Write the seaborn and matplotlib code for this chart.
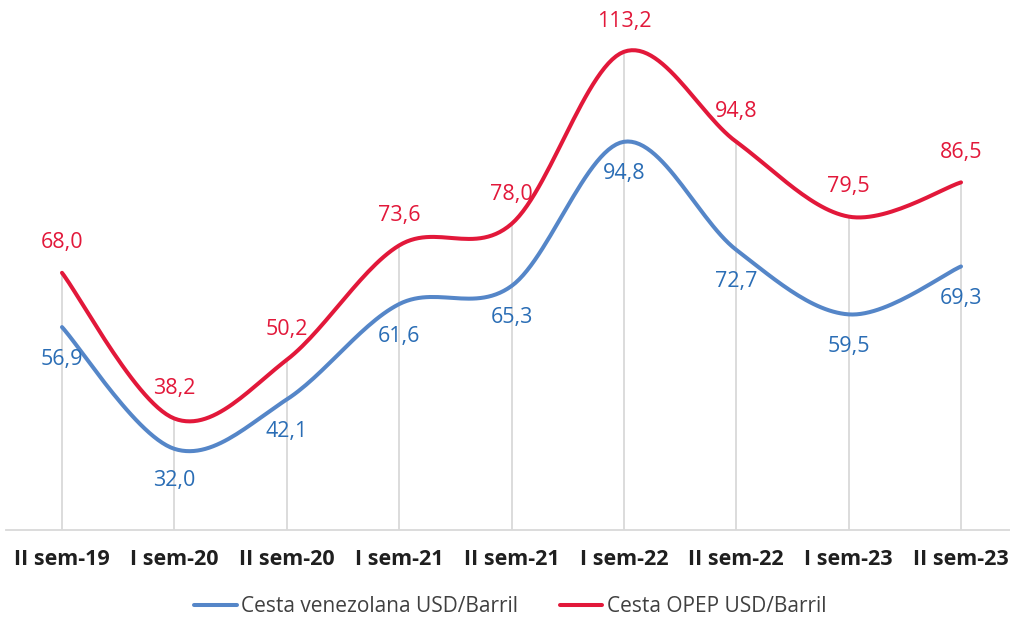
import numpy as np
import pandas as pd
import matplotlib
matplotlib.use("Agg")
import matplotlib.pyplot as plt
import seaborn as sns

# Chart data
periods = ["II sem-19", "I sem-20", "II sem-20", "I sem-21", "II sem-21",
           "I sem-22", "II sem-22", "I sem-23", "II sem-23"]
cesta_venezolana = [56.9, 32.0, 42.1, 61.6, 65.3, 94.8, 72.7, 59.5, 69.3]
cesta_opep = [68.0, 38.2, 50.2, 73.6, 78.0, 113.2, 94.8, 79.5, 86.5]
series_names = ["Cesta venezolana USD/Barril", "Cesta OPEP USD/Barril"]

line_colors = ["#5586C8", "#E2183A"]
label_colors = ["#2A6DB5", "#E2183A"]


def smooth(vals, steps=30):
    # Excel-like smoothed line: Catmull-Rom bezier drawn between the real points
    x = np.arange(len(vals), dtype=float)
    y = np.asarray(vals, dtype=float)
    px = np.concatenate([[x[0]], x, [x[-1]]])
    py = np.concatenate([[y[0]], y, [y[-1]]])
    xs, ys = [], []
    t = np.linspace(0, 1, steps)
    for i in range(len(vals) - 1):
        p0 = np.array([px[i + 1], py[i + 1]])
        p3 = np.array([px[i + 2], py[i + 2]])
        c1 = p0 + (p3 - np.array([px[i], py[i]])) / 6
        c2 = p3 - (np.array([px[i + 3], py[i + 3]]) - p0) / 6
        b = ((1 - t) ** 3)[:, None] * p0 + (3 * (1 - t) ** 2 * t)[:, None] * c1 \
            + (3 * (1 - t) * t ** 2)[:, None] * c2 + (t ** 3)[:, None] * p3
        xs.extend(b[:, 0])
        ys.extend(b[:, 1])
    return xs, ys


sns.set_style("white")
plt.rcParams["font.family"] = ["Open Sans", "DejaVu Sans"]

fig = plt.figure(figsize=(10.1, 6.2), dpi=100)
ax = fig.add_axes([5.8 / 1010, 90 / 620, 1011.4 / 1010, 530 / 620])

rows = []
for name, vals in zip(series_names, [cesta_venezolana, cesta_opep]):
    xs, ys = smooth(vals)
    rows.append(pd.DataFrame({"x": xs, "y": ys, "serie": name}))
df = pd.concat(rows, ignore_index=True)

ymin = 15.4
ax.set_xlim(-0.5, len(periods) - 0.5)
ax.set_ylim(ymin, 123.8)

# drop lines from axis up to the highest point
tops = np.maximum(cesta_venezolana, cesta_opep)
ax.vlines(np.arange(len(periods)), ymin, tops, color="#D9D9D9", lw=1.3, zorder=1)

sns.lineplot(data=df, x="x", y="y", hue="serie", palette=line_colors,
             sort=False, estimator=None, lw=2.9, ax=ax, zorder=3)

# data labels
for vals, col, dy in [(cesta_venezolana, label_colors[0], -23),
                      (cesta_opep, label_colors[1], 21.5)]:
    for i, v in enumerate(vals):
        ax.annotate(f"{v:.1f}".replace(".", ","), (i, v), xytext=(0, dy),
                    textcoords="offset points", ha="center", va="center",
                    fontsize=15.5, color=col, zorder=4)

ax.set_xticks(np.arange(len(periods)))
ax.set_xticklabels(periods, fontsize=15.5, fontweight="bold", color="#1F1F1F")
ax.tick_params(axis="x", length=0, pad=14)
ax.set_yticks([])
ax.set_xlabel("")
ax.set_ylabel("")
for s in ["top", "left", "right"]:
    ax.spines[s].set_visible(False)
ax.spines["bottom"].set_color("#D9D9D9")
ax.spines["bottom"].set_linewidth(1.3)

handles, labels = ax.get_legend_handles_labels()
ax.get_legend().remove()
fig.legend(handles, labels, loc="center", bbox_to_anchor=(0.505, 0.021), ncol=2,
           frameon=False, fontsize=15, handlelength=2.05, handletextpad=0.2,
           columnspacing=2.0, labelcolor="#404040")

fig.savefig("out.png", dpi=100)
